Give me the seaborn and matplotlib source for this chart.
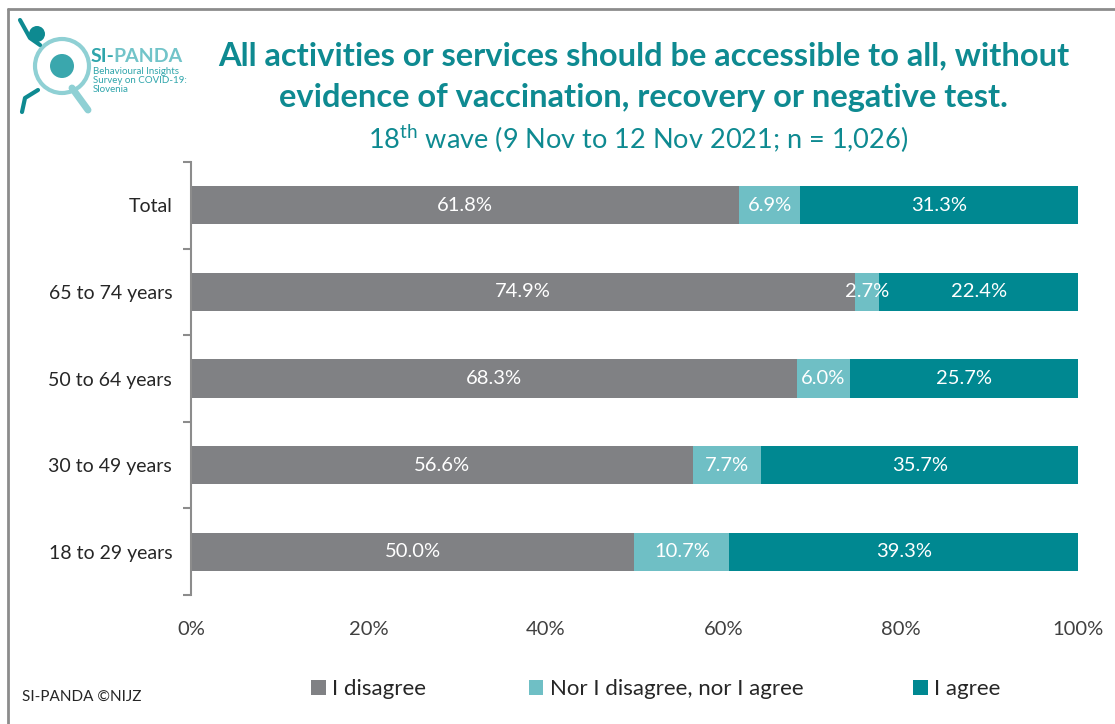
import matplotlib
matplotlib.use("Agg")
import matplotlib.pyplot as plt
import matplotlib.patches as mpatches
import matplotlib.lines as mlines
import numpy as np
import pandas as pd
import seaborn as sns

groups = ["Total", "65 to 74 years", "50 to 64 years", "30 to 49 years", "18 to 29 years"]
disagree = [61.8, 74.9, 68.3, 56.6, 50.0]
neither = [6.9, 2.7, 6.0, 7.7, 10.7]
agree = [31.3, 22.4, 25.7, 35.7, 39.3]
series_names = ["I disagree", "Nor I disagree, nor I agree", "I agree"]
series_colors = ["#808184", "#6fbfc5", "#008891"]

sns.set_style("white")
plt.rcParams["font.family"] = ["Lato", "DejaVu Sans"]
plt.rcParams["mathtext.fontset"] = "custom"
plt.rcParams["mathtext.rm"] = "Lato"

df = pd.DataFrame({"group": groups, "disagree": disagree, "neither": neither, "agree": agree})
df["c1"] = df["disagree"]
df["c2"] = df["disagree"] + df["neither"]
df["c3"] = df["c2"] + df["agree"]

fig = plt.figure(figsize=(11.15, 7.24), dpi=100)
ax = fig.add_axes([0.1713, 0.1782, 0.7955, 0.598])

# stacked by overdrawing cumulative totals, largest first
for col, color in zip(["c3", "c2", "c1"], series_colors[::-1]):
    sns.barplot(data=df, x=col, y="group", order=groups, color=color, orient="h",
                width=0.44, saturation=1, edgecolor="none", ax=ax)

for i, row in df.iterrows():
    starts = [0, row["c1"], row["c2"]]
    for s, v in zip(starts, [row["disagree"], row["neither"], row["agree"]]):
        ax.text(s + v / 2, i, f"{v:.1f}%", ha="center", va="center",
                color="white", fontsize=14.5)

ax.set_xlim(0, 100)
ax.set_ylim(len(groups) - 0.5, -0.5)
ax.set_xlabel("")
ax.set_ylabel("")
ax.set_xticks(np.arange(0, 101, 20))
ax.set_xticklabels([f"{t}%" for t in range(0, 101, 20)])
ax.tick_params(axis="x", length=0, pad=19, labelsize=14.5, labelcolor="#404040")
ax.tick_params(axis="y", which="major", length=0, pad=13.5, labelsize=14, labelcolor="#262626")
ax.set_yticks(np.arange(-0.5, len(groups), 1), minor=True)
ax.tick_params(axis="y", which="minor", left=True, length=6, width=1.5, color="#8c8c8c")
for side in ["top", "right", "bottom"]:
    ax.spines[side].set_visible(False)
ax.spines["left"].set_color("#8c8c8c")
ax.spines["left"].set_linewidth(1.5)

# titles
teal = "#0e8a91"
fig.text(0.577, 0.923, "All activities or services should be accessible to all, without",
         ha="center", va="center", fontsize=23.5, fontweight="bold", color=teal)
fig.text(0.577, 0.865, "evidence of vaccination, recovery or negative test.",
         ha="center", va="center", fontsize=23.5, fontweight="bold", color=teal)
fig.text(0.572, 0.809, r"18$^{\mathrm{th}}$ wave (9 Nov to 12 Nov 2021; n = 1,026)",
         ha="center", va="center", fontsize=19.5, color=teal)

# logo (simplified), drawn in pixel units
lax = fig.add_axes([0, 1 - 120 / 724, 200 / 1115, 120 / 724])
lax.set_xlim(0, 200)
lax.set_ylim(120, 0)
lax.axis("off")
lax.plot([72, 88], [88, 110], color="#8fd0d4", linewidth=5, solid_capstyle="round")
lax.add_patch(mpatches.Circle((62, 66), 27, fill=False, edgecolor="#8fd0d4", linewidth=3))
lax.add_patch(mpatches.Circle((62, 66), 12, facecolor="#3aa7ad", edgecolor="none"))
lax.add_patch(mpatches.Circle((37, 34), 8, facecolor="#0e8a91", edgecolor="none"))
lax.plot([20, 30, 40], [20, 38, 45], color="#0e8a91", linewidth=3)
lax.plot([38, 25, 22], [90, 98, 112], color="#0e8a91", linewidth=3)
lax.text(91, 57, "SI-", ha="left", va="center", fontsize=14, fontweight="bold", color="#2fa5ab")
lax.text(113, 57, "PANDA", ha="left", va="center", fontsize=14, fontweight="bold", color="#72c4c9")
lax.text(93, 67, "Behavioural Insights\nSurvey on COVID-19:\nSlovenia", ha="left", va="top",
         fontsize=7, color="#2fa5ab", linespacing=1.0)

# frame
fig.add_artist(mlines.Line2D([0.007, 1.0], [0.988, 0.988], color="#8c8c8c", linewidth=2,
                             transform=fig.transFigure))
fig.add_artist(mlines.Line2D([0.007, 0.007], [0.0, 0.988], color="#8c8c8c", linewidth=2,
                             transform=fig.transFigure))

fig.text(0.02, 0.038, "SI-PANDA ©NIJZ", ha="left", va="center", fontsize=11, color="#262626")

# legend entries
legend_x = [0.279, 0.474, 0.819]
for name, color, x in zip(series_names, series_colors, legend_x):
    h = mpatches.Patch(facecolor=color, edgecolor="none")
    lg = fig.legend([h], [name], loc="center left", bbox_to_anchor=(x, 0.048),
                    frameon=False, fontsize=16, handlelength=0.65, handleheight=0.65,
                    handletextpad=0.3, borderpad=0, borderaxespad=0)
    for t in lg.get_texts():
        t.set_color("#262626")

fig.savefig("out.png", dpi=100)
